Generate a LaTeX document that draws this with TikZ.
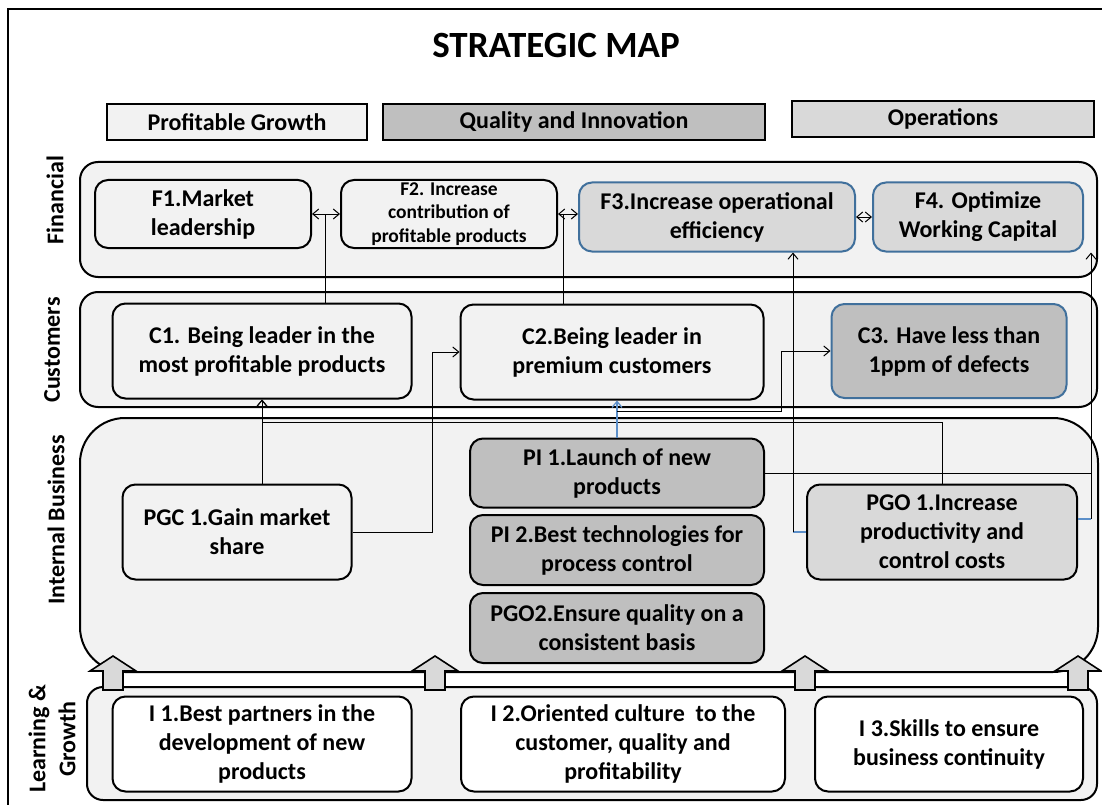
\documentclass[tikz,border=0pt]{standalone}
\usepackage{fontspec}
\setmainfont{Carlito}
\usetikzlibrary{arrows.meta}

\begin{document}
\begin{tikzpicture}[x=1pt,y=-1pt,
  band/.style={draw=mycolor000000,line width=2pt,fill=mycolorF2F2F2,rounded corners=18pt},
  lane/.style={rotate=90,align=center,inner sep=0pt,font=\bfseries\fontsize{24}{30}\selectfont},
  head/.style={draw=mycolor000000,line width=2pt,inner sep=0pt,font=\bfseries\fontsize{24}{29}\selectfont},
  box/.style={draw=mycolor000000,line width=2pt,rounded corners=13pt,align=center,inner sep=0pt,font=\bfseries\fontsize{24}{29}\selectfont},
  bluebox/.style={box,draw=mycolor41719C},
  link/.style={draw=mycolor000000,line width=1pt},
  bluelink/.style={draw=mycolor5B8FC9,line width=1.2pt},
  tip/.style={-{Straight Barb[length=6pt,width=10pt]}},
  dbl/.style={link,{Straight Barb[length=6pt,width=10pt]}-{Straight Barb[length=6pt,width=10pt]}},
  blockarrow/.style={draw=mycolor000000,line width=1.6pt,fill=mycolorD9D9D9,line join=miter}]
\definecolor{mycolor000000}{rgb}{0,0,0}
\definecolor{mycolorF2F2F2}{rgb}{0.95,0.95,0.95}
\definecolor{mycolorD9D9D9}{rgb}{0.85,0.85,0.85}
\definecolor{mycolorBFBFBF}{rgb}{0.75,0.75,0.75}
\definecolor{mycolor41719C}{rgb}{0.25,0.44,0.61}
\definecolor{mycolor5B8FC9}{rgb}{0.36,0.56,0.79}
\useasboundingbox (0,0) rectangle (1102,805);
% frame
\draw [line width=2pt] (1102,9) -- (8,9) -- (8,805);
\node [font=\bfseries\fontsize{37}{44}\selectfont,inner sep=0pt] (title) at (556,45) {STRATEGIC MAP};
% themes
\node [head,fill=mycolorF2F2F2,minimum width=260,minimum height=36] (hPG) at (237,122) {Profitable Growth};
\node [head,fill=mycolorBFBFBF,minimum width=382,minimum height=36] (hQI) at (574,122) {Quality and Innovation};
\node [head,fill=mycolorD9D9D9,minimum width=302,minimum height=36] (hOP) at (943,119) {Operations};
% perspectives
\draw [band] (80,162) rectangle (1097,277);
\draw [band] (80,292) rectangle (1097,407);
\draw [band,rounded corners=45pt] (80,418) rectangle (1098,672);
\draw [band,rounded corners=16pt] (87,687) rectangle (1097,800);
\node [lane] (lFin) at (55,200) {Financial};
\node [lane] (lCus) at (52,350) {Customers};
\node [lane] (lInt) at (56,520) {Internal Business};
\node [lane] (lLea) at (52,739) {Learning \&\\Growth};
% financial
\node [box,fill=mycolorF2F2F2,minimum width=216,minimum height=68] (F1) at (203,214) {F1.Market\\leadership};
\node [box,fill=mycolorF2F2F2,minimum width=216,minimum height=68,font=\bfseries\fontsize{19.5}{23.5}\selectfont] (F2) at (449,214) {F2. Increase\\contribution of\\profitable products};
\node [bluebox,fill=mycolorD9D9D9,minimum width=276,minimum height=69] (F3) at (717,217) {F3.Increase operational\\efficiency};
\node [bluebox,fill=mycolorD9D9D9,minimum width=210,minimum height=69] (F4) at (978,217) {F4. Optimize\\Working Capital};
% customers
\node [box,fill=mycolorF2F2F2,minimum width=299,minimum height=95] (C1) at (262,351) {C1. Being leader in the\\most profitable products};
\node [box,fill=mycolorF2F2F2,minimum width=303,minimum height=95] (C2) at (612,352) {C2.Being leader in\\premium customers};
\node [bluebox,fill=mycolorBFBFBF,minimum width=235,minimum height=94] (C3) at (949,351) {C3. Have less than\\1ppm of defects};
% internal business
\node [box,fill=mycolorF2F2F2,minimum width=229,minimum height=95] (PGC1) at (237,532) {PGC 1.Gain market\\share};
\node [box,fill=mycolorBFBFBF,minimum width=294,minimum height=69] (PI1) at (617,473) {PI 1.Launch of new\\products};
\node [box,fill=mycolorBFBFBF,minimum width=294,minimum height=70] (PI2) at (617,550) {PI 2.Best technologies for\\process control};
\node [box,fill=mycolorBFBFBF,minimum width=294,minimum height=70] (PGO2) at (617,628) {PGO2.Ensure quality on a\\consistent basis};
\node [box,fill=mycolorD9D9D9,minimum width=270,minimum height=95] (PGO1) at (942,532) {PGO 1.Increase\\productivity and\\control costs};
% learning and growth
\node [box,fill=white,minimum width=299,minimum height=95] (I1) at (262,744) {I 1.Best partners in the\\development of new\\products};
\node [box,fill=white,minimum width=324,minimum height=95] (I2) at (623,744) {I 2.Oriented culture~ to the\\customer, quality and\\profitability};
\node [box,fill=white,minimum width=268,minimum height=95] (I3) at (949,744) {I 3.Skills to ensure\\business continuity};
\foreach \ux in {113,435,805,1078}
  \draw [blockarrow] (\ux,656) -- (\ux+23,671) -- (\ux+10,671) -- (\ux+10,690) -- (\ux-10,690) -- (\ux-10,671) -- (\ux-23,671) -- cycle;
% links
\coordinate (m12) at (325,214);
\coordinate (m23) at (563,214);
\draw [dbl] (F1.east) -- (F1.east -| F2.west);
\draw [dbl] (F2.east) -- (F2.east -| F3.west);
\draw [dbl] (F3.east) -- (F3.east -| F4.west);
\draw [link] (m12 |- C1.north) -- (m12);
\draw [link] (m23 |- C2.north) -- (m23);
\draw [link,tip] (PGC1.north -| C1.south) -- (C1.south);
\draw [link,tip] (PGC1.east) -| ([xshift=-27pt]C2.west) -- (C2.west);
\draw [link,tip] (PGO1.north) |- ([yshift=-23pt]C1.south) -- (C1.south);
\draw [bluelink,tip] (PI1.north) -- (PI1.north |- C2.south);
\draw [link,tip] ([yshift=26pt]PI1.north) -| ([xshift=-49pt]C3.west) -- (C3.west);
\draw [bluelink] (PGO1.west) -- ++(-13,0) coordinate (g1);
\draw [link,tip] (g1) -- (g1 |- F3.south);
\draw [bluelink] ([yshift=13pt]PGO1.east) -- ++(13,0) coordinate (g2);
\draw [link,tip] (g2) -- (g2 |- F4.south);
\draw [link] (PI1.east) -- (PI1.east -| g2);
\end{tikzpicture}
\end{document}
